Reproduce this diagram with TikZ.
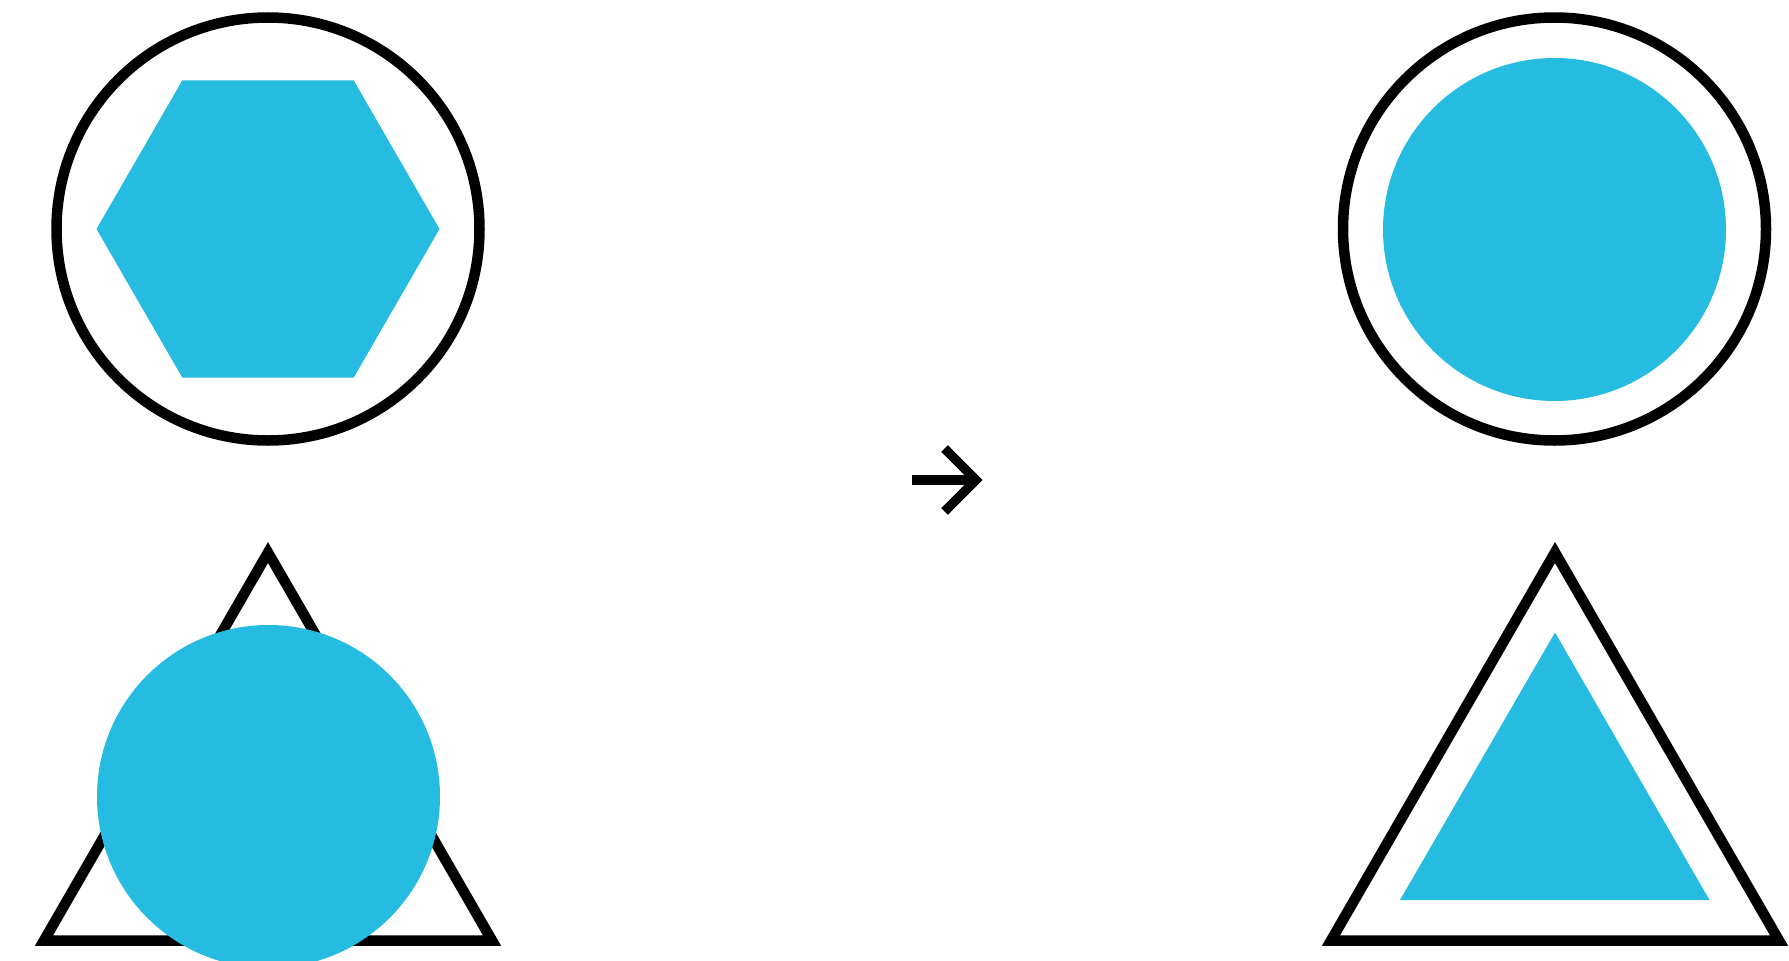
\documentclass[tikz,border=0pt]{standalone}
\definecolor{skyblue}{RGB}{38,188,225}
\begin{document}
\begin{tikzpicture}[x=1pt,y=-1pt,
  outline/.style={draw=black,line width=10.5pt,miter limit=10},
  bluefill/.style={fill=skyblue,draw=none},
  arrowline/.style={draw=black,line width=9.5pt,line cap=butt,line join=miter}]
\useasboundingbox (0,0) rectangle (1789,961);
\clip (0,0) rectangle (1789,961);
% top-left: circle with hexagon
\coordinate (c1) at (268,229);
\draw[outline] (c1) circle[radius=211.5];
\fill[bluefill] (c1) ++(171.5,0) -- ++(120:171.5) -- ++(180:171.5) -- ++(240:171.5) -- ++(300:171.5) -- ++(0:171.5) -- cycle;
% bottom-left: triangle with circle
\coordinate (t1a) at (268,552.5);
\coordinate (t1l) at (44,940.5);
\coordinate (t1r) at (492,940.5);
\draw[outline] (t1a) -- (t1l) -- (t1r) -- cycle;
\coordinate (c2) at (268.5,796.5);
\fill[bluefill] (c2) circle[radius=171.5];
% arrow
\coordinate (as) at (912,480);
\coordinate (at) at (976,480);
\coordinate (au) at (944.5,448.5);
\coordinate (ad) at (944.5,511.5);
\draw[arrowline] (as) -- (at);
\draw[arrowline] (au) -- (at) -- (ad);
% top-right: circle in circle
\coordinate (c3) at (1554.5,229);
\draw[outline] (c3) circle[radius=211.5];
\fill[bluefill] (1554.5,229.5) circle[radius=171.5];
% bottom-right: triangle in triangle
\coordinate (t2a) at (1555,552.5);
\coordinate (t2l) at (1331,940.5);
\coordinate (t2r) at (1779,940.5);
\draw[outline] (t2a) -- (t2l) -- (t2r) -- cycle;
\coordinate (t3a) at (1555,632.5);
\coordinate (t3l) at (1400,900);
\coordinate (t3r) at (1709.5,900);
\fill[bluefill] (t3a) -- (t3l) -- (t3r) -- cycle;
\end{tikzpicture}
\end{document}
